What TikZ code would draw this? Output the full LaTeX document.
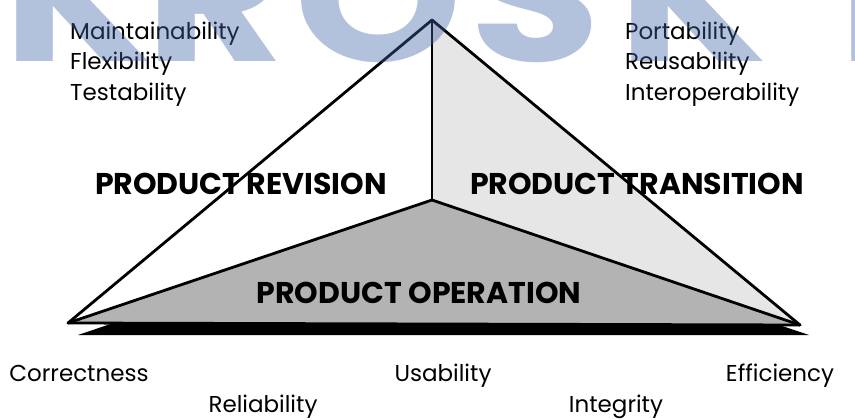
\documentclass[tikz,border=0pt]{standalone}
\usepackage{fontspec}
\setmainfont{Poppins}
\usetikzlibrary{calc}
\definecolor{facelight}{HTML}{E6E6E6}
\definecolor{facedark}{HTML}{B3B3B3}
\definecolor{stampblue}{HTML}{3F63A8}

\begin{document}
\begin{tikzpicture}[x=1pt, y=-1pt,
    quality/.style={anchor=base west, inner sep=0, font=\fontsize{23}{23}\selectfont},
    view/.style={anchor=base, inner sep=0, font=\fontsize{30}{30}\selectfont\bfseries},
    edge/.style={line width=2.8pt, line join=round, line cap=round},
    stamp/.style={anchor=base, inner sep=0, text=stampblue, opacity=0.4, xscale=1.2,
        font=\fontsize{178}{178}\selectfont\bfseries}
]
\useasboundingbox (0,0) rectangle (855,420);

% pyramid corners
\coordinate (apex) at (432,20);
\coordinate (centre) at (432,200);
\coordinate (left) at (68,323);
\coordinate (right) at (800,325);

% drop shadow under the base
\fill[black] ($(left)+(10,12)$) -- ($(centre)+(10,12)$) -- ($(right)+(9,10)$) -- cycle;

% faces
\fill[white] (apex) -- (centre) -- (left) -- cycle;
\fill[facelight] (apex) -- (right) -- (centre) -- cycle;
\fill[facedark] (left) -- (centre) -- (right) -- cycle;

% edges
\draw[edge] (left) -- (apex) -- (right);
\draw[edge] (apex) -- (centre);
\draw[edge] (left) -- (centre) -- (right);
\draw[edge] (left) -- (right);

% the three views
\node[view] (revision) at (241,194) {PRODUCT REVISION};
\node[view] (transition) at (637,194) {PRODUCT TRANSITION};
\node[view] (operation) at (419,303) {PRODUCT OPERATION};

% quality factors, top
\node[quality] (maint) at (70,40) {Maintainability};
\node[quality] (flex) at (70,70) {Flexibility};
\node[quality] (test) at (70,101) {Testability};
\node[quality] (port) at (625,40) {Portability};
\node[quality] (reuse) at (625,70) {Reusability};
\node[quality] (inter) at (625,101) {Interoperability};
% quality factors, bottom
\node[quality, anchor=base] (corr) at (79,381) {Correctness};
\node[quality, anchor=base] (rel) at (263,412) {Reliability};
\node[quality, anchor=base] (usab) at (443,381) {Usability};
\node[quality, anchor=base] (integ) at (616,412) {Integrity};
\node[quality, anchor=base] (eff) at (780,381) {Efficiency};

% watermark
\begin{scope}
\clip (0,0) rectangle (855,420);
\foreach \ch/\xc in {K/78, R/215, O/378, S/535, K/693, I/870}
  \node[stamp] (stamp-\xc) at (\xc,62) {\ch};
\end{scope}
\end{tikzpicture}
\end{document}
